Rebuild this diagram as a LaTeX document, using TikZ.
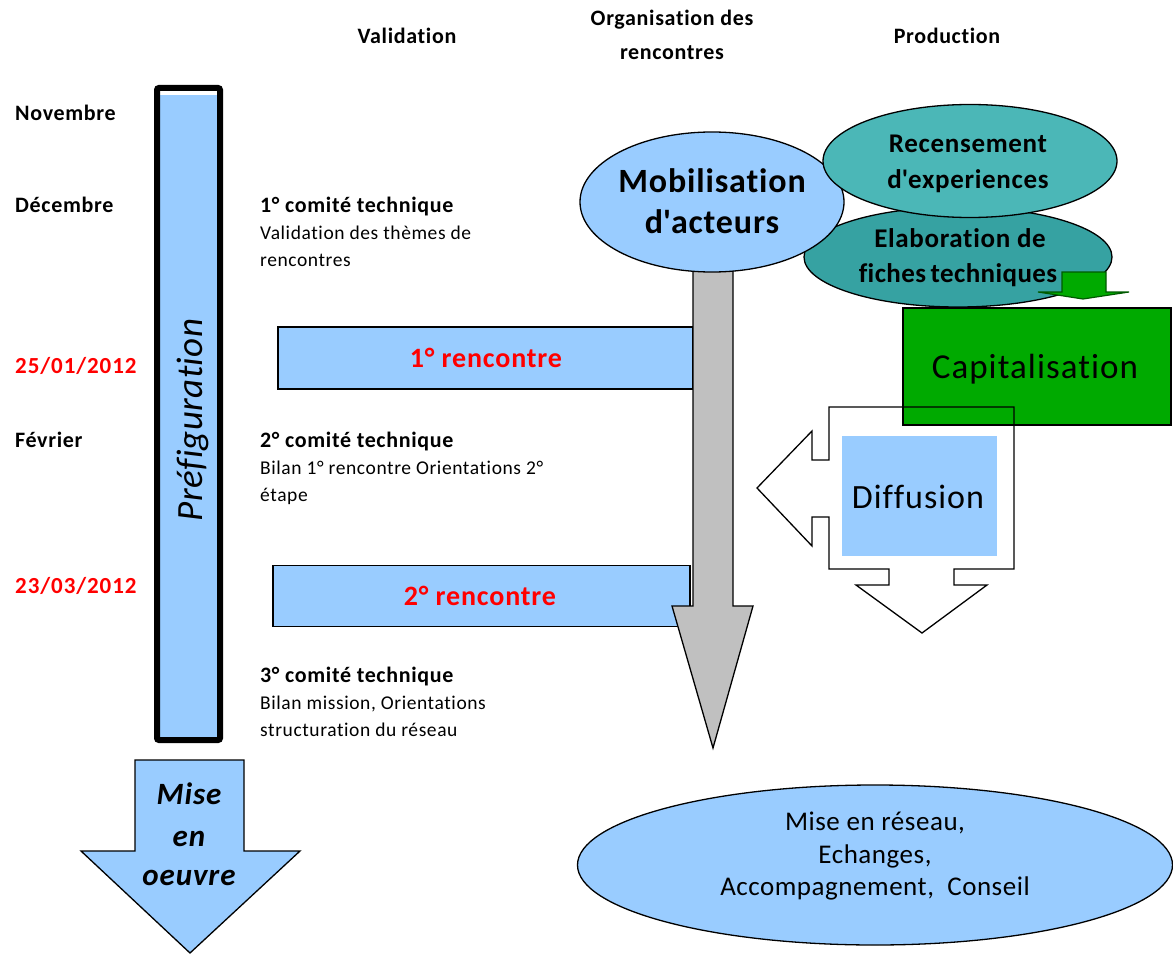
\documentclass[tikz,border=0pt]{standalone}
\usepackage{fontspec}
\setmainfont{Carlito}[Ligatures={TeX,NoCommon}]
\usetikzlibrary{shapes.geometric}
\newcommand{\lsp}[1]{\addfontfeature{LetterSpace=#1}}
\definecolor{lblue}{RGB}{153,204,255}
\definecolor{agrey}{RGB}{192,192,192}
\definecolor{tealA}{RGB}{75,183,183}
\definecolor{tealB}{RGB}{54,162,162}
\definecolor{cgreen}{RGB}{0,170,0}
\definecolor{dgreen}{RGB}{0,90,0}
\definecolor{dred}{RGB}{255,0,0}
\begin{document}
\begin{tikzpicture}[x=1pt,y=-1pt,
  boldlbl/.style={font=\bfseries\fontsize{22}{26}\selectfont\lsp{3}, inner sep=0pt},
  hdr/.style={boldlbl, anchor=base},
  month/.style={boldlbl, anchor=base west},
  datelbl/.style={boldlbl, anchor=base west, text=dred, font=\bfseries\fontsize{23}{26}\selectfont\lsp{4}},
  cbody/.style={font=\fontsize{19.5}{22}\selectfont\lsp{3}, anchor=base west, inner sep=0pt},
  outl/.style={draw=black, line width=1.3pt},
  meetbox/.style={outl, fill=lblue},
  meettxt/.style={font=\bfseries\fontsize{28}{30}\selectfont\lsp{3}, text=dred, anchor=base, inner sep=0pt},
  oval/.style={outl, ellipse, inner sep=0pt},
  ovaltxt/.style={font=\bfseries\fontsize{#1}{#1}\selectfont\lsp{2.5}, anchor=base, inner sep=0pt},
  bigtxt/.style={font=\fontsize{35}{38}\selectfont\lsp{3}, anchor=base, inner sep=0pt},
  midtxt/.style={font=\fontsize{27}{30}\selectfont\lsp{2}, anchor=base, inner sep=0pt},
  oeuvtxt/.style={font=\bfseries\itshape\fontsize{31}{32}\selectfont\lsp{3}, anchor=base, inner sep=0pt}
]
\useasboundingbox (0,0) rectangle (1173,955);

% ---- column headers
\node[hdr] (hval) at (407,44) {Validation};
\node[hdr] (horg1) at (672,26) {Organisation des};
\node[hdr] (horg2) at (672,60) {rencontres};
\node[hdr] (hprod) at (947,44) {Production};

% ---- months and dates
\node[month] (nov) at (15,121) {Novembre};
\node[month] (dec) at (15,212) {Décembre};
\node[datelbl] (d1) at (15,373) {25/01/2012};
\node[month] (feb) at (15,447) {Février};
\node[datelbl] (d2) at (15,593) {23/03/2012};

% ---- Préfiguration bar
\fill[white] (157,88) rectangle (220,740);
\fill[lblue] (157,95) rectangle (220,740);
\node[draw=black, line width=6pt, rounded corners=2pt, minimum width=63pt, minimum height=652pt, inner sep=0pt] (pref) at (188.5,414) {};
\node[rotate=90, font=\itshape\fontsize{37}{40}\selectfont\lsp{1}, anchor=base, inner sep=0pt] (preft) at (202,420) {Préfiguration};

% ---- Mise en oeuvre arrow
\draw[outl, fill=lblue] (135,760) -- (244,760) -- (244,851) -- (300,851) -- (190,953) -- (81,851) -- (135,851) -- cycle;
\node[oeuvtxt] (mo1) at (189,804) {Mise};
\node[oeuvtxt] (mo2) at (189,846) {en};
\node[oeuvtxt] (mo3) at (189,885) {oeuvre};

% ---- comités
\node[month] (c1) at (260,212) {1° comité technique};
\node[cbody] (c1a) at (260,239) {Validation des thèmes de};
\node[cbody] (c1b) at (260,266) {rencontres};
\node[month] (c2) at (260,447) {2° comité technique};
\node[cbody] (c2a) at (260,474) {Bilan 1° rencontre Orientations 2°};
\node[cbody] (c2b) at (260,501) {étape};
\node[month] (c3) at (260,682) {3° comité technique};
\node[cbody] (c3a) at (260,709) {Bilan mission, Orientations};
\node[cbody] (c3b) at (260,736) {structuration du réseau};

% ---- rencontres boxes
\node[meetbox, minimum width=415pt, minimum height=62pt, inner sep=0pt] (r1) at (485.5,358) {};
\node[meettxt] (r1t) at (486,367) {1° rencontre};
\node[meetbox, minimum width=417pt, minimum height=61pt, inner sep=0pt] (r2) at (481.5,596) {};
\node[meettxt] (r2t) at (480,605) {2° rencontre};

% ---- grey arrow
\draw[outl, fill=agrey] (693,250) -- (733,250) -- (733,606) -- (753,606) -- (713,748) -- (672,606) -- (693,606) -- cycle;

% ---- production ovals
\node[oval, fill=tealB, minimum width=308pt, minimum height=100pt] (elab) at (958,257) {};
\node[oval, fill=lblue, minimum width=264pt, minimum height=140pt] (mob) at (712,202) {};
\node[oval, fill=tealA, minimum width=294pt, minimum height=113pt] (rec) at (970,161) {};
\node[ovaltxt=34] (mobt1) at (712,193) {Mobilisation};
\node[ovaltxt=34] (mobt2) at (712,233) {d\textquotesingle acteurs};
\node[ovaltxt=27] (rect1) at (968,153) {Recensement};
\node[ovaltxt=27] (rect2) at (968,189) {d\textquotesingle experiences};
\node[ovaltxt=27] (elt1) at (960,247) {Elaboration de};
\node[ovaltxt=27, font=\bfseries\fontsize{27}{27}\selectfont\lsp{1.5}] (elt2) at (958,282) {fiches\hspace{-2pt} techniques};

% ---- small green arrow
\draw[draw=dgreen, line width=1.2pt, fill=cgreen] (1062,272) -- (1106,272) -- (1106,292) -- (1129,292) -- (1083,299) -- (1038,292) -- (1062,292) -- cycle;

% ---- Capitalisation
\node[outl, fill=cgreen, minimum width=268pt, minimum height=117pt, inner sep=0pt] (cap) at (1037,366.5) {};
\node[bigtxt] (capt) at (1035,378) {Capitalisation};

% ---- Diffusion
\draw[outl] (829,407) -- (1014,407) -- (1014,569) -- (954,569) -- (954,585) -- (987,585) -- (922,633) -- (856,585) -- (889,585) -- (889,569) -- (829,569) -- (829,517) -- (812,517) -- (812,546) -- (757,488) -- (812,431) -- (812,460) -- (829,460) -- cycle;
\node[fill=lblue, minimum width=155pt, minimum height=120pt, inner sep=0pt] (diff) at (919.5,496) {};
\node[bigtxt, font=\fontsize{34}{36}\selectfont\lsp{3}] (difft) at (918,508) {Diffusion};

% ---- bottom oval
\node[oval, fill=lblue, minimum width=595pt, minimum height=160pt] (net) at (875,865) {};
\node[midtxt] (net1) at (875,830) {Mise en réseau,};
\node[midtxt] (net2) at (875,863) {Echanges,};
\node[midtxt] (net3) at (875,895) {Accompagnement,\ \ Conseil};
\end{tikzpicture}
\end{document}
